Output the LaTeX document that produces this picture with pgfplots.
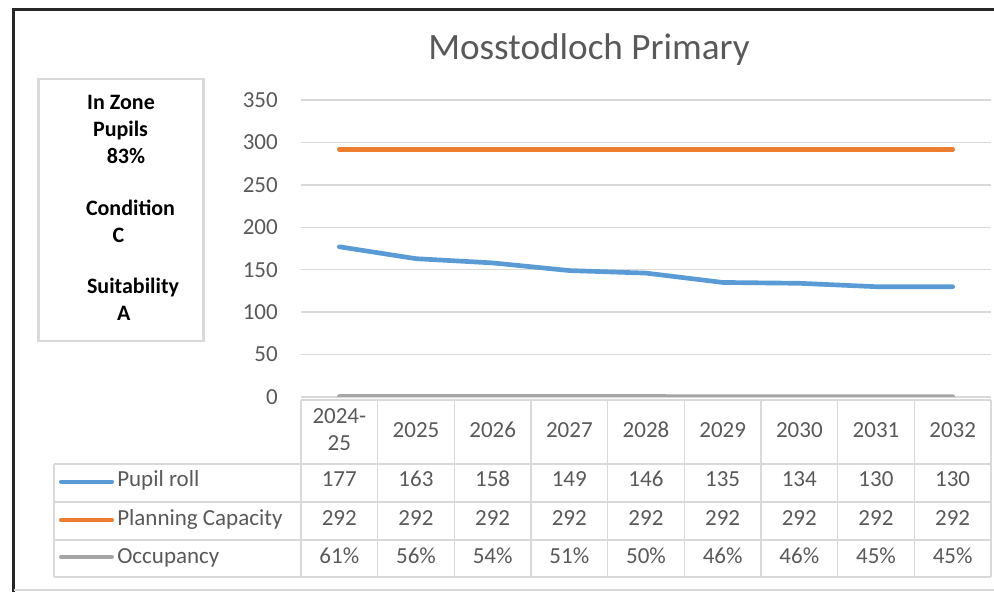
\documentclass[border=0pt]{standalone}
\usepackage{pgfplots}
\pgfplotsset{compat=1.18}
\usepackage{fontspec}
\setmainfont{Carlito}
\definecolor{cblue}{HTML}{5B9BD5}
\definecolor{corange}{HTML}{ED7D31}
\definecolor{cgray}{HTML}{A5A5A5}
\definecolor{tgray}{HTML}{595959}
\definecolor{bgray}{HTML}{D9D9D9}
\newcommand{\tk}{\fontsize{17.25}{20}\selectfont}
\begin{document}
\begin{tikzpicture}[x=0.75pt,y=0.75pt]
\useasboundingbox (0,0) rectangle (994,592);
% outer frame
\draw[black!85,line width=1.6pt] (13.5,0) -- (13.5,582.5) -- (994,582.5);
\draw[bgray,line width=1.2pt] (13.5,2) -- (994,2);
% title
\node[anchor=base,font=\fontsize{27.9}{33}\selectfont,text=tgray,inner sep=0pt] at (589,532) {Mosstodloch Primary};
% info box
\draw[bgray,line width=1.8pt] (38.5,251) rectangle (203.5,513);
\begin{scope}[every node/.style={anchor=base,inner sep=0pt,font=\fontsize{16.5}{20}\selectfont\bfseries}]
\node at (121,482) {In Zone};
\node at (120.5,455) {Pupils};
\node at (126,428) {83\%};
\node at (130.5,376) {Condition};
\node at (118.5,349) {C};
\node at (133,298) {Suitability};
\node at (123.7,271) {A};
\end{scope}
% data table grid
\begin{scope}[bgray,line width=1.1pt]
\draw (301,192) -- (991,192);
\foreach \yy in {128,90,52,15} {\draw (54,\yy) -- (991,\yy);}
\draw (54,128) -- (54,15);
\foreach \i in {0,...,9} {\draw ({301+76.667*\i},192) -- ({301+76.667*\i},15);}
\end{scope}
% legend keys
\draw[cblue,line width=3pt,line cap=round] (61,110.3) -- (112,110.3);
\draw[corange,line width=3pt,line cap=round] (61,72) -- (112,72);
\draw[cgray,line width=3pt,line cap=round] (61,35.3) -- (112,35.3);
\begin{scope}[every node/.style={anchor=base west,inner sep=0pt,font=\tk,text=tgray}]
\node at (117,105) {Pupil roll};
\node at (117,67) {Planning Capacity};
\node at (117,29) {Occupancy};
\end{scope}
% table values
\begin{scope}[every node/.style={anchor=base,inner sep=0pt,font=\tk,text=tgray}]
\foreach \v [count=\i from 0] in {177,163,158,149,146,135,134,130,130}
  {\node at ({339.3+76.667*\i},105) {\v};}
\foreach \v [count=\i from 0] in {292,292,292,292,292,292,292,292,292}
  {\node at ({339.3+76.667*\i},67) {\v};}
\foreach \v [count=\i from 0] in {61,56,54,51,50,46,46,45,45}
  {\node at ({339.3+76.667*\i},29) {\v\%};}
\end{scope}
\begin{axis}[
  at={(225.75pt,146.25pt)}, anchor=south west,
  scale only axis, width=517.5pt, height=222.75pt,
  xmin=-0.5, xmax=8.5, ymin=0, ymax=350,
  xtick={0,...,8},
  xticklabels={{2024-\\25},2025,2026,2027,2028,2029,2030,2031,2032},
  ytick={0,50,...,350},
  ymajorgrids, grid style={bgray,line width=1.1pt},
  axis line style={draw=none}, major tick length=0pt,
  /pgf/number format/assume math mode=true,
  tick label style={font=\tk,text=tgray},
  xticklabel style={anchor=center,align=center,yshift=-24.4pt,
    execute at begin node={\vphantom{0123456789}}},
  yticklabel style={anchor=east,inner sep=0pt,xshift=-17.25pt},
]
\addplot[cblue,line width=3.5pt,line join=round,line cap=round] coordinates {(0,177)(1,163)(2,158)(3,149)(4,146)(5,135)(6,134)(7,130)(8,130)};
\addplot[corange,line width=3.5pt,line join=round,line cap=round] coordinates {(0,292)(1,292)(2,292)(3,292)(4,292)(5,292)(6,292)(7,292)(8,292)};
\addplot[cgray,line width=3.5pt,line join=round,line cap=round] coordinates {(0,0.61)(1,0.56)(2,0.54)(3,0.51)(4,0.50)(5,0.46)(6,0.46)(7,0.45)(8,0.45)};
\end{axis}
\end{tikzpicture}
\end{document}
